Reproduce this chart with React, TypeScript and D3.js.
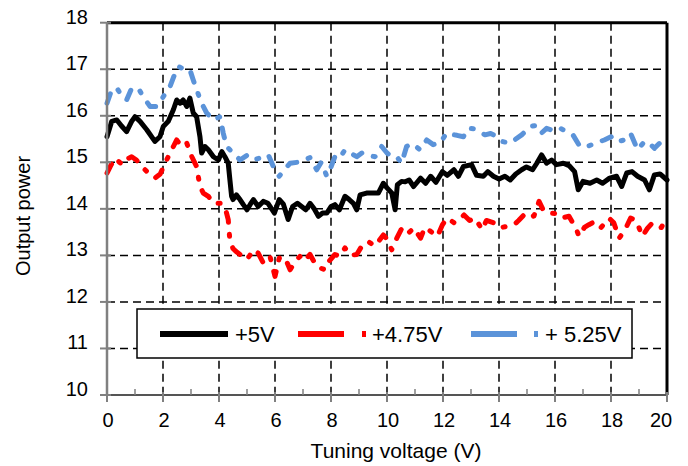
import React from "react";
import * as d3 from "d3";

// ---- data ----
const blackX = [0,0.17,0.35,0.52,0.7,0.88,1,1.18,1.42,1.71,1.89,2.01,2.19,2.37,2.49,2.61,2.72,2.85,2.96,3.08,3.2,3.32,3.38,3.5,3.62,3.8,3.98,4.1,4.21,4.33,4.39,4.45,4.5,4.62,4.75,4.87,5,5.12,5.23,5.4,5.58,5.75,5.98,6.15,6.3,6.47,6.63,6.8,6.95,7.1,7.25,7.4,7.55,7.7,7.85,8,8.14,8.3,8.5,8.65,8.8,8.92,9.04,9.27,9.5,9.69,9.87,10,10.17,10.29,10.37,10.52,10.65,10.79,10.95,11.2,11.38,11.56,11.75,11.98,12.15,12.39,12.55,12.73,13.02,13.2,13.44,13.6,13.8,14,14.21,14.4,14.6,14.81,14.98,15.2,15.35,15.52,15.7,15.88,16.05,16.3,16.5,16.7,16.83,17,17.25,17.49,17.7,17.95,18.2,18.38,18.56,18.75,18.95,19.2,19.37,19.55,19.75,20];
const blackY = [15.55,15.88,15.91,15.78,15.66,15.88,15.98,15.88,15.7,15.45,15.55,15.77,15.88,16.13,16.34,16.27,16.34,16.2,16.38,16.06,15.98,15.55,15.2,15.34,15.27,15.12,15.05,15.23,15.12,14.98,14.62,14.27,14.2,14.3,14.2,14.09,13.98,14.1,14.2,14.05,14.16,14.12,13.91,14.2,14.1,13.77,14.05,14.12,14.05,13.98,14.12,14.0,13.84,13.91,13.91,14.05,14.09,13.98,14.27,14.2,14.12,13.98,14.3,14.34,14.34,14.34,14.55,14.45,14.34,13.98,14.52,14.59,14.58,14.62,14.48,14.66,14.55,14.7,14.57,14.8,14.72,14.84,14.7,14.91,14.95,14.72,14.7,14.8,14.7,14.64,14.7,14.62,14.75,14.84,14.9,14.84,14.98,15.16,14.98,15.05,14.95,14.98,14.93,14.8,14.41,14.59,14.55,14.62,14.55,14.66,14.7,14.48,14.77,14.8,14.7,14.62,14.41,14.73,14.75,14.62];

const redX = [0,0.15,0.29,0.45,0.58,0.75,0.88,1.05,1.24,1.48,1.71,1.9,2.13,2.37,2.49,2.67,2.85,3.03,3.2,3.32,3.44,3.62,3.8,4.04,4.21,4.33,4.39,4.5,4.6,4.75,4.99,5.1,5.23,5.4,5.58,5.82,6,6.15,6.35,6.54,6.7,6.89,7.05,7.25,7.49,7.79,7.9,8.14,8.3,8.5,8.7,8.92,9.1,9.33,9.55,9.7,9.87,10,10.17,10.35,10.5,10.61,10.8,10.96,11.2,11.35,11.55,11.8,11.98,12.15,12.4,12.55,12.75,12.95,13.15,13.4,13.55,13.8,14,14.25,14.54,14.7,14.89,15.05,15.25,15.43,15.6,15.79,16,16.2,16.5,16.74,16.86,17.05,17.21,17.4,17.63,17.93,18.1,18.29,18.5,18.7,18.9,19.12,19.3,19.45,19.6,19.8,19.95];
const redY = [14.77,14.95,15.09,15.0,14.95,15.08,15.12,15.05,14.91,14.77,14.66,14.75,15.05,15.34,15.48,15.34,15.41,15.12,14.91,14.48,14.34,14.27,14.12,14.12,14.05,13.77,13.3,13.15,13.09,13.02,12.91,13.0,13.12,13.05,12.84,12.98,12.55,12.94,12.96,12.69,12.85,12.98,12.88,13.02,12.76,12.69,12.85,13.02,12.98,13.16,13.0,13.02,13.2,13.3,13.2,13.3,13.44,13.35,13.12,13.37,13.55,13.62,13.5,13.59,13.37,13.6,13.52,13.41,13.66,13.8,13.7,13.75,13.87,13.75,13.8,13.55,13.75,13.7,13.59,13.62,13.66,13.75,13.87,13.8,13.85,14.16,13.95,13.91,13.9,13.8,13.84,13.59,13.41,13.6,13.66,13.72,13.59,13.8,13.7,13.37,13.55,13.8,13.75,13.41,13.58,13.68,13.59,13.6,13.77];

const blueX = [0,0.17,0.35,0.5,0.7,0.88,1.12,1.3,1.54,1.77,2.01,2.25,2.43,2.55,2.75,2.96,3.08,3.2,3.38,3.56,3.8,4.04,4.15,4.27,4.51,4.75,5,5.23,5.5,5.76,5.94,6.15,6.35,6.54,6.8,7.01,7.25,7.49,7.65,7.85,8,8.14,8.3,8.5,8.7,8.92,9.1,9.3,9.57,9.81,10,10.17,10.35,10.52,10.7,10.9,11.18,11.42,11.65,11.9,12.13,12.3,12.5,12.73,12.9,13.1,13.5,13.7,13.9,14.1,14.39,14.6,14.81,15.11,15.3,15.5,15.7,15.95,16.15,16.42,16.65,16.89,17.15,17.4,17.76,18,18.2,18.47,18.7,18.95,19.2,19.37,19.55,19.8,20];
const blueY = [16.27,16.56,16.6,16.45,16.34,16.59,16.59,16.4,16.2,16.2,16.41,16.63,16.91,17.06,17.0,16.99,16.77,16.56,16.27,16.06,15.91,15.98,15.63,15.34,15.2,15.05,15.15,15.05,15.1,15.16,14.91,14.7,14.85,14.98,15.0,15.05,15.1,14.84,15.0,14.7,14.9,15.12,15.08,15.27,15.2,15.12,15.2,15.15,15.12,15.34,15.2,15.12,15.12,14.98,15.34,15.4,15.27,15.48,15.38,15.42,15.63,15.6,15.58,15.55,15.73,15.72,15.59,15.62,15.56,15.45,15.41,15.5,15.59,15.77,15.79,15.62,15.73,15.68,15.74,15.66,15.58,15.34,15.34,15.4,15.48,15.55,15.44,15.48,15.62,15.27,15.45,15.41,15.3,15.45,15.4];

const xTicks = [0,2,4,6,8,10,12,14,16,18,20];
const yTicks = [10,11,12,13,14,15,16,17,18];
const seriesNames = ["+5V", "+4.75V", "+ 5.25V"];
const seriesColors = ["#000000", "#ff0000", "#5b93d9"];

const FONT = "'Liberation Sans', Arial, sans-serif";

export default function App() {
  const W = 688, H = 466;
  const x = d3.scaleLinear().domain([0, 20]).range([107, 667]);
  const y = d3.scaleLinear().domain([10, 18]).range([395, 22.7]);

  const mk = (xs: number[], ys: number[]) =>
    d3.line<number>().x((_, i) => x(xs[i])).y((_, i) => y(ys[i]))(xs);

  const plotDash = "10 12 2 12";
  const series = [
    { d: mk(blackX, blackY), dash: undefined as string | undefined },
    { d: mk(redX, redY), dash: plotDash },
    { d: mk(blueX, blueY), dash: plotDash },
  ];

  const x0 = x(0), x1 = x(20), yTop = y(18), yBot = y(10);
  const gridDash = "8 5";

  const legendItems = [
    { lx: 160, lw: 68, dot: null as number | null, tx: 235 },
    { lx: 298, lw: 46, dot: 362, tx: 372 },
    { lx: 471, lw: 46, dot: 534, tx: 545 },
  ];

  return (
    <div style={{ position: "absolute", left: 0, top: 0 }}>
      <svg width={W} height={H} style={{ display: "block", background: "#fff" }}>
        {/* grid */}
        {xTicks.filter((v) => v > 0 && v < 20).map((v) => (
          <line key={"gx" + v} x1={x(v)} x2={x(v)} y1={yTop} y2={yBot}
            stroke="#000" strokeWidth={1.5} strokeDasharray={gridDash} />
        ))}
        {yTicks.filter((v) => v > 10 && v < 18).map((v) => (
          <line key={"gy" + v} x1={x0} x2={x1} y1={y(v)} y2={y(v)}
            stroke="#000" strokeWidth={1.5} strokeDasharray={gridDash} />
        ))}

        {/* series */}
        {series.map((s, i) => (
          <path key={i} d={s.d || ""} fill="none" stroke={seriesColors[i]}
            strokeWidth={5} strokeLinejoin="round" strokeLinecap="round"
            strokeDasharray={s.dash} />
        ))}

        {/* frame */}
        <line x1={x0} x2={x1} y1={yTop} y2={yTop} stroke="#000" strokeWidth={3} />
        <line x1={x1} x2={x1} y1={yTop} y2={yBot} stroke="#000" strokeWidth={3} />
        <line x1={x0} x2={x0} y1={yTop} y2={yBot} stroke="#808080" strokeWidth={2.5} />
        <line x1={x0} x2={x1 + 1} y1={yBot} y2={yBot} stroke="#555" strokeWidth={2} />

        {/* y ticks */}
        {yTicks.map((v) => (
          <g key={"yt" + v}>
            <line x1={100} x2={111} y1={y(v)} y2={y(v)} stroke="#808080" strokeWidth={2} />
            <text x={88} y={y(v) + 1} textAnchor="end" fontFamily={FONT} fontSize={20} fill="#000">{v}</text>
          </g>
        ))}
        {/* x ticks */}
        {d3.range(0, 21).map((v) => (
          v % 2 === 0 ? (
            <line key={"xt" + v} x1={x(v)} x2={x(v)} y1={yBot - 3} y2={yBot + 7} stroke="#808080" strokeWidth={2} />
          ) : (
            <line key={"xt" + v} x1={x(v)} x2={x(v)} y1={yBot - 6} y2={yBot} stroke="#808080" strokeWidth={1.5} />
          )
        ))}
        {xTicks.map((v) => (
          <text key={"xl" + v} x={x(v) + (v === 20 ? -6 : 1)} y={427} textAnchor="middle" fontFamily={FONT} fontSize={20} fill="#000">{v}</text>
        ))}

        {/* titles */}
        <text x={396} y={458} textAnchor="middle" fontFamily={FONT} fontSize={21} fill="#000">Tuning voltage (V)</text>
        <text transform={`translate(30,${216}) rotate(-90)`} textAnchor="middle" fontFamily={FONT} fontSize={20} fill="#000">Output power</text>

        {/* legend */}
        <rect x={137} y={309} width={495} height={49} fill="#fff" stroke="#000" strokeWidth={1.5} />
        {legendItems.map((it, i) => (
          <g key={"lg" + i}>
            <line x1={it.lx} x2={it.lx + it.lw} y1={334} y2={334} stroke={seriesColors[i]} strokeWidth={6} />
            {it.dot !== null && (
              <line x1={it.dot} x2={it.dot + 4} y1={334} y2={334} stroke={seriesColors[i]} strokeWidth={6} />
            )}
            <text x={it.tx} y={342} fontFamily={FONT} fontSize={22} fill="#000">{seriesNames[i]}</text>
          </g>
        ))}
      </svg>
    </div>
  );
}
